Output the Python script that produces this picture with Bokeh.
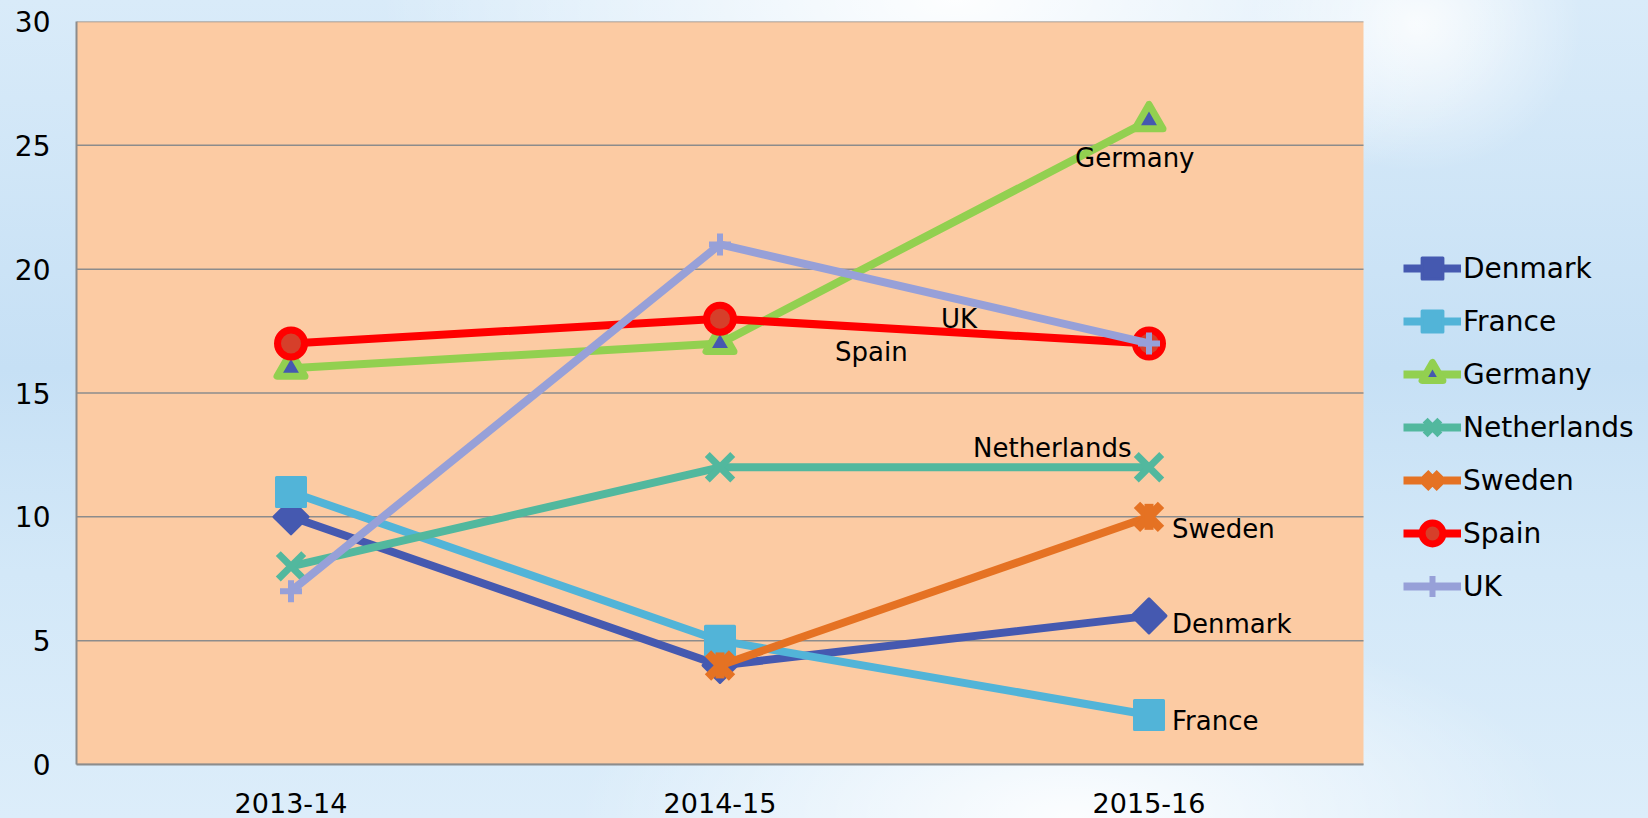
import math
from bokeh.plotting import figure
from bokeh.models import (Legend, LegendItem, ColumnDataSource, FixedTicker,
                          Range1d, BoxAnnotation)
from bokeh.embed import file_html
from bokeh.resources import INLINE
from bokeh.core.properties import value

# ---- data ----
years = ["2013-14", "2014-15", "2015-16"]
countries = ["Denmark", "France", "Germany", "Netherlands", "Sweden", "Spain", "UK"]
denmark = [10, 4, 6]
france = [11, 5, 2]
germany = [16, 17, 26]
netherlands = [8, 12, 12]
sweden = [float("nan"), 4, 10]
spain = [17, 18, 17]
uk = [7, 21, 17]
y_ticks = [0, 5, 10, 15, 20, 25, 30]

series = dict(zip(countries, [denmark, france, germany, netherlands, sweden, spain, uk]))

# category slots: each year occupies one unit, centred at i + 0.5
x_pos = [i + 0.5 for i in range(len(years))]
n_cat = len(years)

# ---- styles ----
colors = {
    "Denmark": "#4559B0",
    "France": "#52B4D8",
    "Germany": "#92D050",
    "Netherlands": "#52B89E",
    "Sweden": "#E57223",
    "Spain": "#FF0000",
    "UK": "#97A0D8",
}
FONT = "DejaVu Sans"
W, H = 1648, 818
LEFT, TOP, BOTTOM = 76, 21, 54
PLOT_W = 1287                       # pixel width of the category area
frame_w = W - LEFT

p = figure(
    x_range=Range1d(0, n_cat * frame_w / PLOT_W), y_range=Range1d(0, 30),
    width=W, height=H,
    output_backend="svg", toolbar_location=None,
    min_border_left=LEFT, min_border_right=0, min_border_top=TOP, min_border_bottom=BOTTOM,
)
p.background_fill_alpha = 0
p.border_fill_color = None
p.outline_line_color = None
p.styles = {
    "background": (
        "radial-gradient(ellipse 35% 30% at 58% 0%, rgba(255,255,255,0.95) 0%, rgba(255,255,255,0) 100%),"
        "radial-gradient(ellipse 30% 25% at 65% 100%, rgba(255,255,255,0.9) 0%, rgba(255,255,255,0) 100%),"
        "radial-gradient(ellipse 10% 18% at 86% 3%, rgba(255,255,255,0.8) 0%, rgba(255,255,255,0) 100%),"
        "linear-gradient(to bottom, #D9EBF9 0%, #C6E0F5 45%, #D3E8F8 70%, #DCEDFA 100%)"
    )
}

# peach plot area limited to the category slots
p.add_layout(BoxAnnotation(left=0, right=n_cat, bottom=y_ticks[0], top=y_ticks[-1],
                           fill_color="#FCCBA3", fill_alpha=1, line_color=None, level="image"))

p.xgrid.grid_line_color = None
p.ygrid.grid_line_color = None
# horizontal gridlines across the category area only
p.segment(x0=[0] * len(y_ticks), x1=[n_cat] * len(y_ticks), y0=y_ticks, y1=y_ticks,
          line_color="#8C8C8C", line_width=1.5)

p.yaxis.ticker = FixedTicker(ticks=y_ticks)
p.xaxis.ticker = FixedTicker(ticks=x_pos)
p.xaxis.major_label_overrides = {x: y for x, y in zip(x_pos, years)}
p.xaxis.bounds = (0, n_cat)

for ax in (p.xaxis[0], p.yaxis[0]):
    ax.axis_line_color = "#8C8C8C"
    ax.axis_line_width = 2
    ax.major_tick_line_color = None
    ax.minor_tick_line_color = None
    ax.major_label_text_font = FONT
    ax.major_label_text_color = "#000000"
p.yaxis.major_label_text_font_size = "28px"
p.xaxis.major_label_text_font_size = "27px"
p.yaxis.major_label_standoff = 20
p.xaxis.major_label_standoff = 22

renderers = {}
for name in countries:
    vals = series[name]
    src = ColumnDataSource(dict(x=x_pos, y=vals))
    c = colors[name]
    rs = [p.line("x", "y", source=src, line_color=c, line_width=8, line_join="round")]
    if name == "Denmark":
        rs.append(p.scatter("x", "y", source=src, marker="square", angle=math.pi / 4, size=24,
                            fill_color=c, line_color=c, line_width=3, line_join="round"))
    elif name == "France":
        rs.append(p.scatter("x", "y", source=src, marker="square", size=29,
                            fill_color=c, line_color=c, line_width=3, line_join="round"))
    elif name == "Germany":
        rs.append(p.scatter("x", "y", source=src, marker="triangle", size=28,
                            fill_color="#4559B0", line_color=c, line_width=7, line_join="round"))
    elif name == "Netherlands":
        rs.append(p.scatter("x", "y", source=src, marker="x", size=36,
                            line_color=c, line_width=7))
    elif name == "Sweden":
        rs.append(p.scatter("x", "y", source=src, marker="x", size=34,
                            line_color=c, line_width=9))
        rs.append(p.scatter("x", "y", source=src, marker="dash", angle=math.pi / 2, size=26,
                            line_color=c, line_width=9))
    elif name == "Spain":
        rs.append(p.scatter("x", "y", source=src, marker="circle", size=27,
                            fill_color="#D63F2A", line_color=c, line_width=7))
    elif name == "UK":
        rs.append(p.scatter("x", "y", source=src, marker="cross", size=22,
                            line_color=c, line_width=6))
    renderers[name] = rs

# ---- data labels (anchored to the last point of each series) ----
label_offsets = {
    "Germany": (-74, 37),
    "UK": (-208, -24),
    "Spain": (-314, 9),
    "Netherlands": (-176, -19),
    "Sweden": (23, 12),
    "Denmark": (23, 8),
    "France": (23, 6),
}
for name, (dx, dy) in label_offsets.items():
    src = ColumnDataSource(dict(x=[x_pos[-1]], y=[series[name][-1]], t=[name]))
    p.text("x", "y", text="t", source=src, x_offset=dx, y_offset=dy,
           text_font=value(FONT), text_font_size="26px", text_color="#000000",
           text_align="left", text_baseline="middle")

legend = Legend(
    items=[LegendItem(label=n, renderers=renderers[n]) for n in countries],
    location=(1327, 152),
    glyph_width=58, glyph_height=52, spacing=1, padding=0, margin=0,
    label_standoff=2, label_text_font=FONT, label_text_font_size="28px",
    label_text_color="#000000", label_height=52,
    background_fill_alpha=0, border_line_alpha=0,
)
p.add_layout(legend, "center")

open("out.html", "w").write(file_html(p, INLINE))
